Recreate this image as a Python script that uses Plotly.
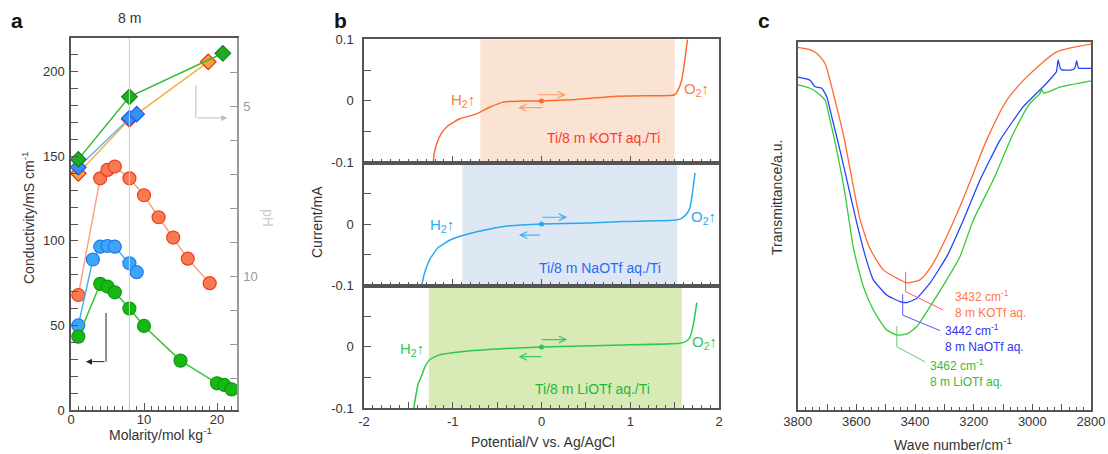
import plotly.graph_objects as go

FONT = "Liberation Sans, Arial, sans-serif"
W, H = 1108, 454

# ---------------- Panel a data ----------------
k_molality = [1, 4, 5, 6, 8, 10, 12, 14, 16, 19]
k_conductivity = [68, 137, 142, 144, 137, 127, 114, 102, 89.5, 75]
na_molality = [1, 3, 4, 5, 6, 8, 9]
na_conductivity = [50, 89, 96.6, 97, 96.6, 86.8, 81.5]
li_molality = [1, 4, 5, 6, 8, 10, 15, 20, 21, 22]
li_conductivity = [43.4, 74.6, 73, 69.6, 60, 49.7, 29.2, 15.8, 14.8, 12.2]

li_ph_molality = [1, 8, 20.8]
li_ph = [6.57, 4.73, 3.45]
k_ph_molality = [1, 8, 18.8]
k_ph = [6.98, 5.39, 3.7]
na_ph_molality = [1, 8, 9]
na_ph = [6.8, 5.36, 5.24]

# ---------------- Panel b data ----------------
k_potential = [-1.22, -1.21, -1.18, -1.13, -1.05, -0.92, -0.73, -0.58, -0.43, -0.21, 0, 0.36, 0.85, 1.45, 1.50, 1.54, 1.58, 1.615, 1.645]
k_current = [-0.1, -0.086, -0.069, -0.053, -0.040, -0.029, -0.021, -0.010, -0.002, 0, 0, 0.002, 0.0077, 0.0088, 0.010, 0.018, 0.034, 0.066, 0.1]
na_potential = [-1.35, -1.32, -1.26, -1.17, -1.03, -0.85, -0.58, -0.36, 0, 0.54, 0.92, 1.48, 1.56, 1.62, 1.67, 1.70, 1.73]
na_current = [-0.1, -0.081, -0.058, -0.039, -0.026, -0.017, -0.008, -0.003, 0, 0.0017, 0.004, 0.006, 0.008, 0.014, 0.025, 0.05, 0.083]
li_potential = [-1.44, -1.39, -1.35, -1.315, -1.26, -1.15, -0.88, -0.4, 0, 0.92, 1.56, 1.63, 1.67, 1.71, 1.75]
li_current = [-0.1, -0.06, -0.047, -0.033, -0.021, -0.013, -0.0075, -0.0027, 0, 0.003, 0.006, 0.009, 0.015, 0.035, 0.072]
windows = {"K": (-0.69, 1.50), "Na": (-0.89, 1.53), "Li": (-1.27, 1.58)}

# ---------------- Panel c data ----------------
k_wn = [3800, 3760, 3735, 3707, 3690, 3673, 3645, 3610, 3588, 3554, 3508, 3451, 3428, 3383, 3338, 3298, 3247, 3201, 3156, 3087, 3019, 2917, 2800]
k_tr = [0.986, 0.980, 0.970, 0.943, 0.897, 0.843, 0.752, 0.607, 0.520, 0.440, 0.381, 0.354, 0.346, 0.354, 0.399, 0.462, 0.553, 0.644, 0.734, 0.843, 0.906, 0.974, 0.995]
na_wn = [3800, 3758, 3741, 3718, 3701, 3684, 3656, 3627, 3599, 3570, 3542, 3497, 3451, 3428, 3394, 3349, 3292, 3235, 3178, 3110, 3031, 2963, 2933, 2918, 2912, 2905, 2900, 2866, 2855, 2849, 2843, 2837, 2800]
na_tr = [0.905, 0.897, 0.879, 0.875, 0.852, 0.798, 0.707, 0.607, 0.510, 0.420, 0.354, 0.313, 0.295, 0.292, 0.304, 0.345, 0.417, 0.517, 0.626, 0.734, 0.825, 0.879, 0.905, 0.92, 0.952, 0.93, 0.925, 0.925, 0.93, 0.950, 0.93, 0.929, 0.929]
li_wn = [3800, 3758, 3730, 3707, 3690, 3667, 3639, 3622, 3610, 3576, 3542, 3497, 3462, 3428, 3394, 3349, 3292, 3247, 3201, 3133, 3065, 3008, 2975, 2968, 2962, 2906, 2800]
li_tr = [0.884, 0.875, 0.861, 0.843, 0.789, 0.707, 0.589, 0.500, 0.440, 0.335, 0.272, 0.218, 0.204, 0.207, 0.227, 0.281, 0.354, 0.417, 0.517, 0.626, 0.752, 0.834, 0.860, 0.872, 0.862, 0.878, 0.895]
peak_wn = [3432, 3442, 3462]
peak_labels = ["3432 cm<sup>-1</sup><br>8 m KOTf aq.", "3442 cm<sup>-1</sup><br>8 m NaOTf aq.", "3462 cm<sup>-1</sup><br>8 m LiOTf aq."]


def px_x(p):
    return p / W


def px_y(p):
    return 1 - p / H


fig = go.Figure()

# ---- Panel a traces ----
fig.add_trace(go.Scatter(x=k_molality, y=k_conductivity, mode="lines+markers", xaxis="x", yaxis="y",
                         line=dict(color="#f9a585", width=1.5),
                         marker=dict(size=13, color="#f87a50", line=dict(color="#f03c1e", width=1.2))))
fig.add_trace(go.Scatter(x=na_molality, y=na_conductivity, mode="lines+markers", xaxis="x", yaxis="y",
                         line=dict(color="#4ab0f0", width=1.5),
                         marker=dict(size=13, color="#3ea6f8", line=dict(color="#1e78f0", width=1.2))))
fig.add_trace(go.Scatter(x=li_molality, y=li_conductivity, mode="lines+markers", xaxis="x", yaxis="y",
                         line=dict(color="#3cc03c", width=1.5),
                         marker=dict(size=13, color="#16b816", line=dict(color="#0f9a0f", width=1.2))))
fig.add_trace(go.Scatter(x=k_ph_molality, y=k_ph, mode="lines+markers", xaxis="x", yaxis="y2",
                         line=dict(color="#f8b040", width=1.5),
                         marker=dict(symbol="diamond", size=12, color="#f8a038", line=dict(color="#f02a10", width=1.2))))
fig.add_trace(go.Scatter(x=na_ph_molality, y=na_ph, mode="lines+markers", xaxis="x", yaxis="y2",
                         line=dict(color="#52b8f0", width=1.5),
                         marker=dict(symbol="diamond", size=12, color="#3a8ef8", line=dict(color="#1a5ee8", width=1.2))))
fig.add_trace(go.Scatter(x=li_ph_molality, y=li_ph, mode="lines+markers", xaxis="x", yaxis="y2",
                         line=dict(color="#33bb33", width=1.5),
                         marker=dict(symbol="diamond", size=12, color="#22aa22", line=dict(color="#118811", width=1.2))))

# ---- Panel b traces ----
b_sets = [
    ("x2", "y3", k_potential, k_current, "#ff6a28", "K"),
    ("x3", "y4", na_potential, na_current, "#2aa8f2", "Na"),
    ("x4", "y5", li_potential, li_current, "#2ec84e", "Li"),
]
for xa, ya, v, i, col, key in b_sets:
    fig.add_trace(go.Scatter(x=v, y=i, mode="lines", xaxis=xa, yaxis=ya,
                             line=dict(color=col, width=1.5, shape="spline", smoothing=0.4)))
    fig.add_trace(go.Scatter(x=[0], y=[0], mode="markers", xaxis=xa, yaxis=ya,
                             marker=dict(size=5, color=col)))

# ---- Panel c traces ----
fig.add_trace(go.Scatter(x=k_wn, y=k_tr, mode="lines", xaxis="x5", yaxis="y6",
                         line=dict(color="#ff6a30", width=1.3, shape="spline", smoothing=0.6)))
fig.add_trace(go.Scatter(x=na_wn, y=na_tr, mode="lines", xaxis="x5", yaxis="y6",
                         line=dict(color="#2244ff", width=1.3, shape="spline", smoothing=0.4)))
fig.add_trace(go.Scatter(x=li_wn, y=li_tr, mode="lines", xaxis="x5", yaxis="y6",
                         line=dict(color="#33cc33", width=1.3, shape="spline", smoothing=0.6)))

AX = "#555555"
TF = dict(family=FONT, size=13, color="#333333")

# domains
a_x = [px_x(71), px_x(237)]
a_y = [px_y(410), px_y(38)]
b_x = [px_x(364), px_x(719)]
b_top = [px_y(162.5), px_y(39.3)]
b_mid = [px_y(285.5), px_y(162.5)]
b_bot = [px_y(408.3), px_y(285.5)]
c_x = [px_x(797.7), px_x(1091)]
c_y = [px_y(410), px_y(42.3)]

b_xticks = [-2 + 0.5 * k for k in range(9)]
b_xtext = ["%d" % round(t) if abs(t - round(t)) < 1e-9 else "" for t in b_xticks]

layout = dict(
    template="none",
    width=W, height=H, autosize=False,
    margin=dict(l=0, r=0, t=0, b=0, pad=0, autoexpand=False),
    paper_bgcolor="white", plot_bgcolor="rgba(0,0,0,0)",
    showlegend=False, font=TF,
    xaxis=dict(domain=a_x, anchor="y", range=[0, 22.74], showline=True, linecolor=AX, linewidth=1.5, mirror=True,
               showgrid=False, zeroline=False, ticks="inside", ticklen=7, tickcolor=AX, dtick=10, tick0=0,
               minor=dict(dtick=1, tick0=0, ticks="inside", ticklen=4, tickcolor=AX, showgrid=False),
               tickfont=TF, automargin=False, ticklabelstandoff=-3),
    yaxis=dict(domain=a_y, anchor="x", range=[0, 220], showline=True, linecolor=AX, linewidth=1.5,
               showgrid=False, zeroline=False, ticks="inside", ticklen=7, tickcolor=AX, dtick=50, tick0=0,
               minor=dict(dtick=10, tick0=0, ticks="inside", ticklen=7, tickcolor=AX, showgrid=False),
               tickfont=TF, automargin=False, ticklabelstandoff=2),
    yaxis2=dict(overlaying="y", anchor="x", side="right", range=[13.94, 3], showline=True, linecolor="#999999",
                linewidth=1.5, showgrid=False, zeroline=False, ticks="inside", ticklen=7, tickcolor="#999999",
                tickvals=[5, 10], minor=dict(dtick=1, tick0=0, ticks="inside", ticklen=7, tickcolor="#999999",
                                             showgrid=False),
                tickfont=dict(family=FONT, size=13, color="#999999"), automargin=False, ticklabelstandoff=2),
    xaxis5=dict(domain=c_x, anchor="y6", range=[3800, 2800], showline=True, linecolor=AX, linewidth=1.5, mirror=True,
                showgrid=False, zeroline=False, ticks="inside", ticklen=6, tickcolor=AX,
                tickvals=list(range(2800, 3801, 100)),
                ticktext=[str(v) if v % 200 == 0 else "" for v in range(2800, 3801, 100)],
                minor=dict(dtick=25, tick0=2800, ticks="inside", ticklen=3.5, tickcolor=AX, showgrid=False),
                tickfont=TF, automargin=False, ticklabelstandoff=-1),
    yaxis6=dict(domain=c_y, anchor="x5", range=[0, 1], showline=True, linecolor=AX, linewidth=1.5, mirror=True,
                showgrid=False, zeroline=False, ticks="", showticklabels=False, automargin=False),
)

for xa, ya, dom, ylab_top in [("xaxis2", "yaxis3", b_top, True),
                              ("xaxis3", "yaxis4", b_mid, False),
                              ("xaxis4", "yaxis5", b_bot, False)]:
    xname = xa.replace("axis", "")
    yname = ya.replace("axis", "")
    layout[xa] = dict(domain=b_x, anchor=yname, range=[-2, 2], showline=True, linecolor=AX, linewidth=1.5,
                      mirror=True, showgrid=False, zeroline=False, ticks="inside", ticklen=7, tickcolor=AX,
                      tickvals=b_xticks, ticktext=b_xtext, showticklabels=(xa == "xaxis4"),
                      minor=dict(dtick=0.1, tick0=0, ticks="inside", ticklen=4, tickcolor=AX, showgrid=False),
                      tickfont=TF, automargin=False, ticklabelstandoff=0)
    layout[ya] = dict(domain=dom, anchor=xname, range=[-0.1, 0.1], showline=True, linecolor=AX, linewidth=1.5,
                      mirror=True, showgrid=False, zeroline=False, ticks="inside", ticklen=7, tickcolor=AX,
                      tickvals=[-0.1, -0.05, 0, 0.05, 0.1],
                      ticktext=["-0.1", " ", "0", " ", "0.1" if ylab_top else " "], tickfont=TF,
                      ticklabelstandoff=6, automargin=False)

fig.update_layout(**layout)

shapes = []
annotations = []

# Panel b shaded windows, arrows, labels
b_refs = [("x2", "y3", "K", "#fbe3d3", "#ff9a70", "#ff7a40", "#ff3a2a", "Ti/8 m KOTf aq./Ti",
           (-0.88, 0.001), (1.745, 0.0186), (0.70, -0.060), (0.01, -0.04, 0.26), (-0.011, 0.01, -0.25)),
          ("x3", "y4", "Na", "#dde8f4", "#40b0f0", "#29aaf0", "#2a6af5", "Ti/8 m NaOTf aq./Ti",
           (-1.12, -0.0017), (1.82, 0.011), (0.66, -0.072), (0.011, 0.01, 0.275), (-0.018, -0.02, -0.24)),
          ("x4", "y5", "Li", "#d8eab6", "#40c870", "#2ec85a", "#22b840", "Ti/8 m LiOTf aq./Ti",
           (-1.46, -0.004), (1.84, 0.007), (0.58, -0.068), (0.012, 0.0, 0.275), (-0.016, 0.0, -0.245))]

for xr, yr, key, shade, arrc, labc, txtc, txt, h2, o2, tpos, rarr, larr in b_refs:
    x0, x1 = windows[key]
    shapes.append(dict(type="rect", xref=xr, yref=yr + " domain", x0=x0, x1=x1, y0=0, y1=1,
                       fillcolor=shade, line=dict(width=0), layer="below"))
    dx, dy = 0.08, 0.0055
    for yy, xs, xe in [rarr, larr]:
        sgn = 1 if xe > xs else -1
        path = "M %g,%g L %g,%g M %g,%g L %g,%g L %g,%g" % (xs, yy, xe, yy, xe - sgn * dx, yy + dy, xe, yy,
                                                           xe - sgn * dx, yy - dy)
        shapes.append(dict(type="path", xref=xr, yref=yr, path=path, line=dict(color=arrc, width=1.2)))
    for pos, t, sz, c in [(h2, "H<sub>2</sub>↑", 15, labc), (o2, "O<sub>2</sub>↑", 15, labc), (tpos, txt, 14, txtc)]:
        annotations.append(dict(x=pos[0], y=pos[1], xref=xr, yref=yr, text=t, showarrow=False,
                                xanchor="center", yanchor="middle",
                                font=dict(family=FONT, size=sz, color=c)))

# Panel a extras
shapes.append(dict(type="line", xref="x", yref="y domain", x0=8, x1=8, y0=0, y1=1,
                   line=dict(color="#cccccc", width=1)))
annotations.append(dict(x=8, y=px_y(18), xref="x", yref="paper", text="8 m", showarrow=False,
                        xanchor="center", yanchor="middle",
                        font=dict(family=FONT, size=14, color="#333333")))
# gray arrow toward pH axis
shapes.append(dict(type="line", xref="x", yref="y2", x0=17.1, x1=17.1, y0=4.38, y1=5.35,
                   line=dict(color="#bbbbbb", width=1)))
annotations.append(dict(x=21.4, y=5.35, ax=17.1, ay=5.35, xref="x", yref="y2", axref="x", ayref="y2",
                        text="", showarrow=True, arrowhead=2, arrowsize=1.2, arrowwidth=1, arrowcolor="#bbbbbb"))
# black arrow toward conductivity axis
shapes.append(dict(type="line", xref="x", yref="y", x0=4.8, x1=4.8, y0=57.4, y1=28.6,
                   line=dict(color="#222222", width=1)))
annotations.append(dict(x=2.05, y=28.6, ax=4.8, ay=28.6, xref="x", yref="y", axref="x", ayref="y",
                        text="", showarrow=True, arrowhead=2, arrowsize=1.2, arrowwidth=1, arrowcolor="#222222"))

# Panel c leaders and labels
c_leaders = [
    (peak_wn[0], 0.376, 0.322, 3304, 0.272, "#ff5a5a", "#ff7a40", 3270, 0.288),
    (peak_wn[1], 0.315, 0.258, 3315, 0.216, "#5555ff", "#3333ee", 3306, 0.196),
    (peak_wn[2], 0.228, 0.172, 3366, 0.131, "#66cc66", "#33bb44", 3356, 0.100),
]
for i, (wn, ytop, ybot, xe, ye, lc, tc, tx, ty) in enumerate(c_leaders):
    shapes.append(dict(type="path", xref="x5", yref="y6",
                       path="M %g,%g L %g,%g L %g,%g" % (wn, ytop, wn, ybot, xe, ye),
                       line=dict(color=lc, width=1)))
    annotations.append(dict(x=tx, y=ty, xref="x5", yref="y6", text=peak_labels[i], showarrow=False,
                            xanchor="left", yanchor="middle", align="left",
                            font=dict(family=FONT, size=12, color=tc)))


# Axis titles and free text
def title(text, x, y, angle=0, size=14, color="#333333", bold=False):
    annotations.append(dict(x=px_x(x), y=px_y(y), xref="paper", yref="paper",
                            text=("<b>%s</b>" % text) if bold else text, textangle=angle,
                            xanchor="center", yanchor="middle",
                            showarrow=False, font=dict(family=FONT, size=size, color=color)))


title("Conductivity/mS cm<sup>-1</sup>", 28, 218, -90)
title("Molarity/mol kg<sup>-1</sup>", 160, 434)
title("pH", 268, 218, 90, 14, "#cccccc")
title("Current/mA", 317, 222, -90)
title("Potential/V vs. Ag/AgCl", 543, 442)
title("Transmittance/a.u.", 777, 198, -90)
title("Wave number/cm<sup>-1</sup>", 953, 444)

# Panel letters
for letter, x in [("a", 17), ("b", 340), ("c", 764)]:
    title(letter, x, 20, 0, 21, "#111111", True)

fig.update_layout(shapes=shapes, annotations=annotations)
fig.write_html("out.html", config={"displayModeBar": False},
               post_script="document.body.style.margin='0px';document.body.style.overflow='hidden';")
